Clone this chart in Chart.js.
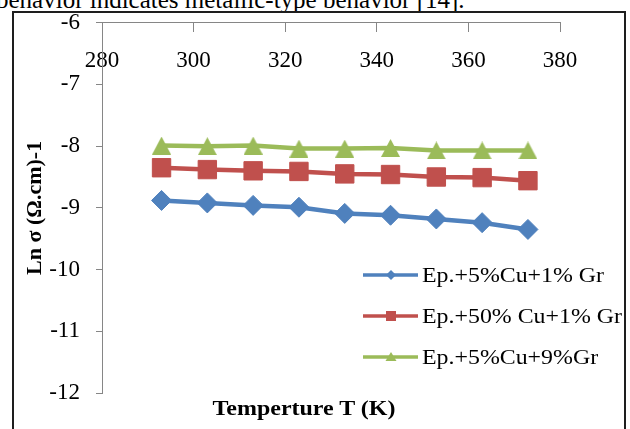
<!DOCTYPE html>
<html>
<head>
<meta charset="utf-8">
<script src="https://cdn.jsdelivr.net/npm/chart.js@4.4.1/dist/chart.umd.min.js"></script>
<style>
  html, body { margin: 0; padding: 0; background: #fff; }
  body { width: 630px; height: 429px; position: relative; overflow: hidden; font-family: "Liberation Serif", "Times New Roman", serif; }
  #lead { position: absolute; left: -4px; top: -13.5px; font-size: 25px; line-height: 25px; white-space: nowrap; color: #000; }
  #frame { position: absolute; left: 12px; top: 11px; width: 614px; height: 440px; border: 2px solid #1e1e1e; box-sizing: border-box; pointer-events: none; }
  #chart { position: absolute; left: 0; top: 0; }
  #xtitle { position: absolute; left: 304px; top: 408px; transform: translate(-50%, -50%) scaleX(1.09); font-weight: bold; font-size: 22px; white-space: nowrap; color: #000; }
  #legend { position: absolute; left: 363px; top: 0; }
  .row { position: absolute; left: 0; height: 24px; white-space: nowrap; }
  .row canvas { position: absolute; left: 0; top: 2px; }
  .row span { position: absolute; left: 59px; top: 0; font-size: 22px; line-height: 24px; color: #000; transform: scaleX(1.085); transform-origin: 0 50%; }
</style>
</head>
<body>
<div id="lead">behavior indicates metallic-type behavior [14].</div>
<canvas id="chart" width="630" height="429"></canvas>
<div id="frame"></div>
<div id="xtitle">Temperture T (K)</div>
<div id="legend"></div>
<script>
// Temperatures (K) and ln of conductivity for the three composites
const temperatures = [293, 303, 313, 323, 333, 343, 353, 363, 373];
const seriesLabels = ["Ep.+5%Cu+1% Gr", "Ep.+50% Cu+1% Gr", "Ep.+5%Cu+9%Gr"];
const lnSigmaCu5Gr1 = [-8.88, -8.92, -8.96, -8.99, -9.09, -9.12, -9.18, -9.24, -9.35];
const lnSigmaCu50Gr1 = [-8.35, -8.38, -8.40, -8.41, -8.45, -8.46, -8.50, -8.51, -8.56];
const lnSigmaCu5Gr9 = [-7.99, -8.00, -7.99, -8.04, -8.04, -8.03, -8.07, -8.07, -8.07];
const xTickValues = [280, 300, 320, 340, 360, 380];
const yTickValues = [-6, -7, -8, -9, -10, -11, -12];

const colors = ["#4F81BD", "#C0504D", "#9BBB59"];

// Triangle marker sprite, centred on its bounding box
function triangleSprite(w, h, color) {
  const c = document.createElement("canvas");
  c.width = w; c.height = h;
  const g = c.getContext("2d");
  g.fillStyle = color;
  g.beginPath();
  g.moveTo(w / 2, 0);
  g.lineTo(w, h);
  g.lineTo(0, h);
  g.closePath();
  g.fill();
  return c;
}

const series = [lnSigmaCu5Gr1, lnSigmaCu50Gr1, lnSigmaCu5Gr9];
const pointStyles = ["rectRot", "rect", triangleSprite(19, 18, colors[2])];
const pointRadii = [10, 13, 10];

const datasets = series.map((vals, i) => ({
  label: seriesLabels[i],
  data: temperatures.map((t, k) => ({ x: t, y: vals[k] })),
  borderColor: colors[i],
  backgroundColor: colors[i],
  borderWidth: 4.5,
  pointStyle: pointStyles[i],
  pointRadius: pointRadii[i],
  pointBorderWidth: 1,
  pointBorderColor: colors[i],
  pointBackgroundColor: colors[i],
  tension: 0,
  fill: false
}));

const tickFont = { family: "'Liberation Serif', 'Times New Roman', serif", size: 23 };

new Chart(document.getElementById("chart"), {
  type: "line",
  data: { datasets },
  options: {
    responsive: false,
    animation: false,
    events: [],
    layout: { padding: { top: 22.7, right: 70, bottom: 36, left: 0 } },
    plugins: { legend: { display: false }, tooltip: { enabled: false }, title: { display: false } },
    scales: {
      x: {
        type: "linear",
        position: { y: -6 },
        min: 280, max: 380,
        afterBuildTicks: s => { s.ticks = xTickValues.map(v => ({ value: v })); },
        ticks: { font: tickFont, color: "#000", padding: 15, maxRotation: 0 },
        grid: { drawOnChartArea: false, drawTicks: true, tickLength: 9, color: "#868686", lineWidth: 1 },
        border: { display: true, color: "#868686", width: 1 }
      },
      y: {
        type: "linear",
        position: "left",
        min: -12, max: -6,
        afterBuildTicks: s => { s.ticks = yTickValues.map(v => ({ value: v })); },
        afterFit: s => { s.width = 102; s.paddingTop = 0; s.paddingBottom = 0; },
        ticks: { font: tickFont, color: "#000", padding: 16 },
        grid: { drawOnChartArea: false, drawTicks: true, tickLength: 6, color: "#868686", lineWidth: 1 },
        border: { display: true, color: "#868686", width: 1 },
        title: {
          display: true,
          text: "Ln σ (Ω.cm)-1",
          color: "#000",
          font: { family: "'Liberation Serif', 'Times New Roman', serif", size: 22, weight: "bold" },
          padding: { top: 22, bottom: 0 }
        }
      }
    }
  }
});

// Legend: line swatch with marker, followed by the series name
const legend = document.getElementById("legend");
seriesLabels.forEach((name, i) => {
  const row = document.createElement("div");
  row.className = "row";
  row.style.top = (263 + i * 41) + "px";
  const sw = document.createElement("canvas");
  sw.width = 56; sw.height = 20;
  const g = sw.getContext("2d");
  g.strokeStyle = colors[i];
  g.lineWidth = 3.5;
  g.beginPath(); g.moveTo(0, 10); g.lineTo(55, 10); g.stroke();
  g.fillStyle = colors[i];
  g.beginPath();
  if (i === 0) { g.moveTo(28, 5); g.lineTo(33, 10); g.lineTo(28, 15); g.lineTo(23, 10); }
  else if (i === 1) { g.rect(23, 5, 10, 10); }
  else { g.moveTo(28, 5); g.lineTo(33.5, 14); g.lineTo(22.5, 14); }
  g.closePath(); g.fill();
  row.appendChild(sw);
  const label = document.createElement("span");
  label.textContent = name;
  row.appendChild(label);
  legend.appendChild(row);
});
</script>
</body>
</html>
